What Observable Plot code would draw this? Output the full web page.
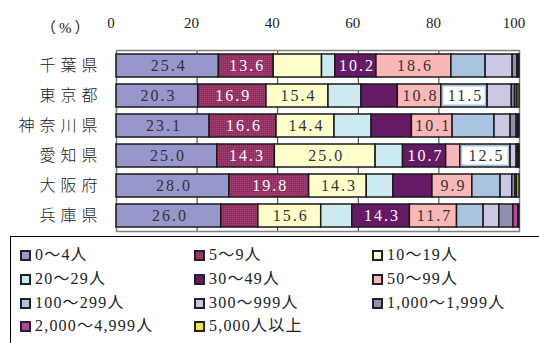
<!DOCTYPE html>
<html>
<head>
<meta charset="utf-8">
<script src="https://cdn.jsdelivr.net/npm/d3@7"></script>
<script src="https://cdn.jsdelivr.net/npm/@observablehq/plot@0.6"></script>
<style>
  html, body { margin: 0; padding: 0; background: #fff; overflow: hidden; }
  body { width: 539px; height: 343px; position: relative; font-family: "Liberation Serif", "Noto Sans CJK JP", serif; }
  #chart svg { display: block; }
  #chart [aria-label="y-axis tick label"] text { letter-spacing: 5px; font-weight: 300; }
  #chart .val text { letter-spacing: 2px; }
  #chart .pct text { letter-spacing: 3px; }
  #legend { position: absolute; left: 10px; top: 236px; width: 560px; height: 140px; border: 1px solid #000; box-sizing: border-box; }
  .item { position: absolute; display: flex; align-items: center; font-size: 16px; line-height: 1; color: #222; white-space: nowrap; letter-spacing: 1.2px; }
  .item svg { margin-right: 4px; display: block; }
</style>
</head>
<body>
<div id="chart"></div>
<div id="legend"></div>
<script>
const prefectures = ["千葉県", "東京都", "神奈川県", "愛知県", "大阪府", "兵庫県"];
const sizeClasses = ["0〜4人", "5〜9人", "10〜19人", "20〜29人", "30〜49人", "50〜99人",
  "100〜299人", "300〜999人", "1,000〜1,999人", "2,000〜4,999人", "5,000人以上"];
const classColors = ["#9797cb", "url(#hatch59)", "#ffffcc", "#cceaf0", "#641a64", "#f9b7b7",
  "#a9c3e0", "#ccc8e4", "#8f8fb0", "#b5469f", "#ecec3a"];

// share (%) of each size class, per prefecture
const chiba    = [25.4, 13.6, 12.0, 3.3, 10.2, 18.6, 8.5, 6.7, 1.2, 0.3, 0.2];
const tokyo    = [20.3, 16.9, 15.4, 8.2, 9.0, 10.8, 11.5, 6.0, 0.8, 0.6, 0.5];
const kanagawa = [23.1, 16.6, 14.4, 9.2, 10.0, 10.1, 10.4, 4.0, 1.5, 0.4, 0.3];
const aichi    = [25.0, 14.3, 25.0, 6.8, 10.7, 3.5, 12.5, 1.5, 0.4, 0.2, 0.1];
const osaka    = [28.0, 19.8, 14.3, 6.6, 9.7, 9.9, 7.0, 2.9, 0.8, 0.4, 0.6];
const hyogo    = [26.0, 9.2, 15.6, 7.7, 14.3, 11.7, 6.6, 3.9, 3.5, 1.2, 0.3];
const seriesByPref = [chiba, tokyo, kanagawa, aichi, osaka, hyogo];

// which segments carry a value label
const labeledSegments = [
  ["千葉県", "0〜4人"], ["千葉県", "5〜9人"], ["千葉県", "30〜49人"], ["千葉県", "50〜99人"],
  ["東京都", "0〜4人"], ["東京都", "5〜9人"], ["東京都", "10〜19人"], ["東京都", "50〜99人"], ["東京都", "100〜299人"],
  ["神奈川県", "0〜4人"], ["神奈川県", "5〜9人"], ["神奈川県", "10〜19人"], ["神奈川県", "50〜99人"],
  ["愛知県", "0〜4人"], ["愛知県", "5〜9人"], ["愛知県", "10〜19人"], ["愛知県", "30〜49人"], ["愛知県", "100〜299人"],
  ["大阪府", "0〜4人"], ["大阪府", "5〜9人"], ["大阪府", "10〜19人"], ["大阪府", "50〜99人"],
  ["兵庫県", "0〜4人"], ["兵庫県", "10〜19人"], ["兵庫県", "30〜49人"], ["兵庫県", "50〜99人"]
];
const boxedSegments = [["東京都", "100〜299人"], ["愛知県", "100〜299人"]];
const darkClasses = ["5〜9人", "30〜49人"];
const xTicks = [0, 20, 40, 60, 80, 100];
const gridTicks = [20, 40, 60, 80];

const key = (p, c) => p + "|" + c;
const labeledSet = new Set(labeledSegments.map(([p, c]) => key(p, c)));
const boxedSet = new Set(boxedSegments.map(([p, c]) => key(p, c)));

const rows = [];
prefectures.forEach((pref, i) => {
  sizeClasses.forEach((cls, j) => {
    rows.push({
      pref, cls, value: seriesByPref[i][j],
      shown: labeledSet.has(key(pref, cls)),
      boxed: boxedSet.has(key(pref, cls)) ? 1 : 0
    });
  });
});

const fontFamily = '"Liberation Serif", "Noto Sans CJK JP", serif';

const chart = Plot.plot({
  width: 539,
  height: 236,
  marginLeft: 116,
  marginRight: 20,
  marginTop: 50,
  marginBottom: 5,
  style: { fontFamily, fontSize: "15px", color: "#222", background: "#fff" },
  x: { domain: [0, 100] },
  y: { domain: prefectures, paddingInner: 0.25, paddingOuter: 0.08 },
  color: { domain: sizeClasses, range: classColors },
  opacity: { domain: [0, 1], range: [0, 1] },
  marks: [
    Plot.ruleX(gridTicks, { stroke: "#333", strokeWidth: 1 }),
    Plot.frame({ stroke: "#808080", strokeWidth: 1.5 }),
    Plot.barX(rows, Plot.stackX({
      x: "value", y: "pref", z: "cls", fill: "cls",
      stroke: "#1a1a1a", strokeWidth: 1.5
    })),
    Plot.barX(rows, Plot.stackX({
      x: "value", y: "pref", z: "cls", fill: "white", fillOpacity: "boxed",
      insetLeft: 2.5, insetRight: 2.5, insetTop: 2.5, insetBottom: 2.5
    })),
    Plot.text(rows, Plot.stackX({
      x: "value", y: "pref", z: "cls",
      text: d => d.shown ? d.value.toFixed(1) : null,
      fill: d => darkClasses.includes(d.cls) ? "white" : "#333",
      fontSize: 16, dx: 1, className: "val"
    })),
    Plot.axisX(xTicks, { anchor: "top", tickSize: 0, tickPadding: 23, label: null, dx: -5.5, fontSize: 15, tickFormat: d => String(d) }),
    Plot.axisY({ tickSize: 0, tickPadding: 14, label: null, fontSize: 16 }),
    Plot.text(["（%）"], { frameAnchor: "top-left", dx: -24, dy: -28, textAnchor: "end", fontSize: 15, className: "pct" })
  ]
});

// dithered fill for the 5〜9人 class
const ns = "http://www.w3.org/2000/svg";
const defs = document.createElementNS(ns, "defs");
defs.innerHTML = '<pattern id="hatch59" width="2" height="2" patternUnits="userSpaceOnUse">' +
  '<rect width="2" height="2" fill="#963264"/>' +
  '<rect width="1" height="1" fill="#a54274"/>' +
  '<rect x="1" y="1" width="1" height="1" fill="#8a2a58"/></pattern>';
chart.insertBefore(defs, chart.firstChild);
document.getElementById("chart").appendChild(chart);

// legend
const legend = document.getElementById("legend");
const colLeft = [9, 183, 361];
const rowTop = [10, 34, 58, 81];
sizeClasses.forEach((cls, i) => {
  const item = document.createElement("div");
  item.className = "item";
  item.style.left = colLeft[i % 3] + "px";
  item.style.top = rowTop[Math.floor(i / 3)] + "px";
  item.innerHTML = '<svg width="11" height="11"><rect x="1" y="1" width="9" height="9" fill="' + classColors[i] +
    '" stroke="#222" stroke-width="2"/></svg><span>' + cls + '</span>';
  legend.appendChild(item);
});
</script>
</body>
</html>
